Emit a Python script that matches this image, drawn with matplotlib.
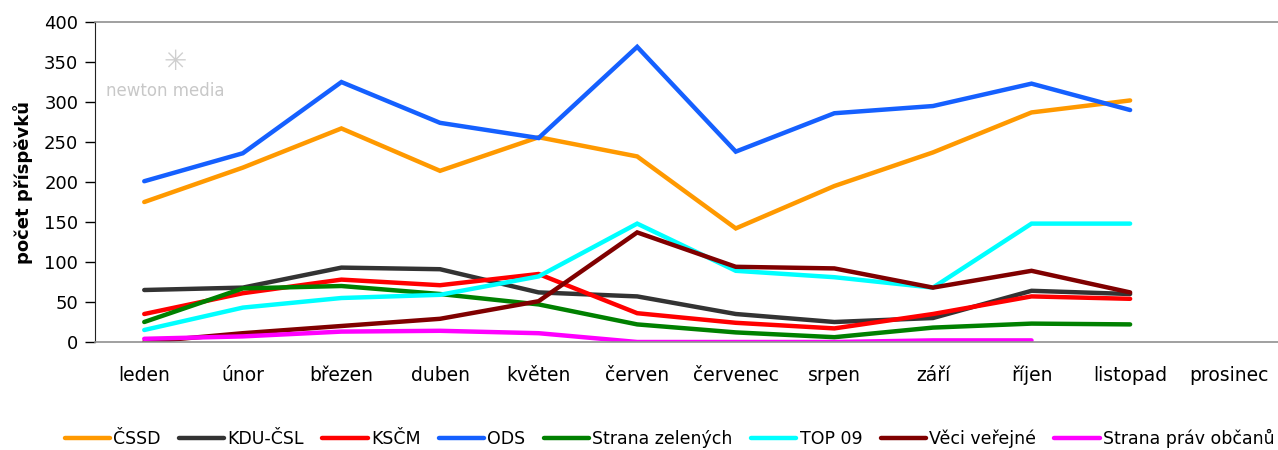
import numpy as np
import matplotlib
import matplotlib.pyplot as plt

matplotlib.use('Agg')

months = ['leden', 'únor', 'březen', 'duben', 'květen', 'červen', 'červenec',
          'srpen', 'září', 'říjen', 'listopad', 'prosinec']

cssd = [175, 218, 267, 214, 256, 232, 142, 195, 237, 287, 302]
kdu = [65, 68, 93, 91, 62, 57, 35, 25, 30, 64, 60]
kscm = [35, 61, 78, 71, 85, 36, 24, 17, 35, 57, 54]
ods = [201, 236, 325, 274, 255, 369, 238, 286, 295, 323, 290]
zeleni = [25, 67, 70, 60, 47, 22, 12, 6, 18, 23, 22]
top09 = [15, 43, 55, 59, 82, 148, 89, 81, 68, 148, 148]
vv = [0, 11, 20, 29, 51, 137, 94, 92, 68, 89, 62]
spo = [4, 7, 13, 14, 11, 0, 0, 0, 2, 2]

series = [
    ('ČSSD', cssd, '#FF9900'),
    ('KDU-ČSL', kdu, '#333333'),
    ('KSČM', kscm, '#FF0000'),
    ('ODS', ods, '#1560FF'),
    ('Strana zelených', zeleni, '#008000'),
    ('TOP 09', top09, '#00FFFF'),
    ('Věci veřejné', vv, '#800000'),
    ('Strana práv občanů', spo, '#FF00FF'),
]

plt.rcParams['font.family'] = ['DejaVu Sans']

fig = plt.figure(figsize=(12.78, 4.5), dpi=100)
ax = fig.add_axes([0.0743, 0.24, 0.9257, 0.711])

for name, vals, col in series:
    ax.plot(np.arange(len(vals)), vals, color=col, lw=3.2, label=name,
            solid_joinstyle='miter', solid_capstyle='round')

ax.set_xlim(-0.5, len(months) - 0.5)
ax.set_ylim(0, 400)
ax.set_yticks(range(0, 401, 50))
ax.set_xticks(range(len(months)))
ax.set_xticklabels(months)
ax.tick_params(axis='x', length=0, pad=17, labelsize=13.5)
ax.tick_params(axis='y', length=7, width=1, labelsize=13, pad=5)
ax.set_ylabel('počet příspěvků', fontsize=13, fontweight='bold', labelpad=8)

for s in ['top', 'bottom']:
    ax.spines[s].set_color('#909090')
    ax.spines[s].set_linewidth(1.2)
ax.spines['right'].set_visible(False)
ax.spines['left'].set_color('#222222')

# watermark
ax.text(0.059, 0.785, 'newton media', transform=ax.transAxes, color='#c8c8c8',
        fontsize=12, ha='center', va='center')
ax.text(0.068, 0.875, '✳', transform=ax.transAxes, color='#cfcfcf',
        fontsize=20, ha='center', va='center')

fig.legend(loc='lower center', bbox_to_anchor=(0.524, -0.03), ncol=8,
           frameon=False, fontsize=12.5, handlelength=2.6, handletextpad=0.2,
           columnspacing=1.05)

fig.savefig('out.png', dpi=100)
